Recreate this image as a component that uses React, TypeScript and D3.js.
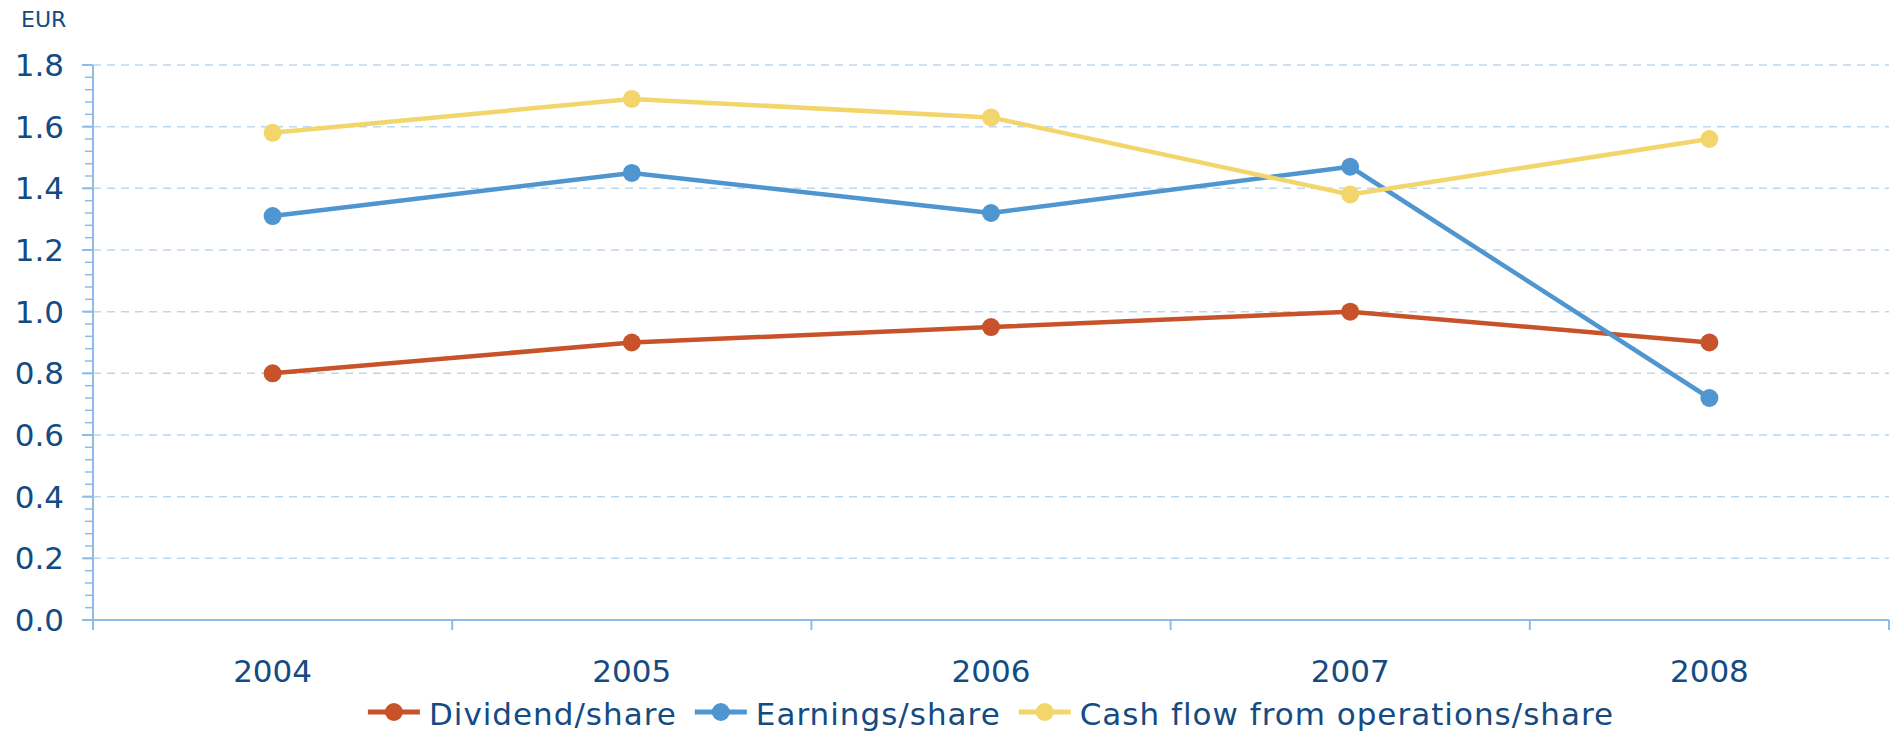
import React, { useEffect, useRef } from "react";
import * as d3 from "d3";

const years = ["2004", "2005", "2006", "2007", "2008"];
const dividend = [0.8, 0.9, 0.95, 1.0, 0.9];
const earnings = [1.31, 1.45, 1.32, 1.47, 0.72];
const cashFlow = [1.58, 1.69, 1.63, 1.38, 1.56];
const yTicks = [0, 0.2, 0.4, 0.6, 0.8, 1.0, 1.2, 1.4, 1.6, 1.8];
const seriesNames = ["Dividend/share", "Earnings/share", "Cash flow from operations/share"];
const seriesColors = ["#C8532A", "#4F95CF", "#F2D66B"];
const unitLabel = "EUR";

const W = 1896;
const H = 731;
const FONT = "'DejaVu Sans', Verdana, sans-serif";
const TEXT = "#134B82";
const AXIS = "#8DBDE6";
const GRID = "#BCD8F0";

export default function App() {
  const ref = useRef<SVGSVGElement>(null);

  useEffect(() => {
    const svg = d3.select(ref.current);
    svg.selectAll("*").remove();

    const left = 93, right = 1889, top = 65, bottom = 620;
    const x = d3.scaleBand<string>().domain(years).range([left, right]);
    const y = d3.scaleLinear().domain([0, 1.8]).range([bottom, top]);
    const cx = (yr: string) => (x(yr) as number) + x.bandwidth() / 2;

    // gridlines
    svg.append("g")
      .selectAll("line")
      .data(yTicks.filter((t) => t > 0))
      .join("line")
      .attr("x1", left)
      .attr("x2", right)
      .attr("y1", (d) => y(d))
      .attr("y2", (d) => y(d))
      .attr("stroke", GRID)
      .attr("stroke-width", 1.5)
      .attr("stroke-dasharray", "8,6");

    // minor ticks on y axis
    const minor = d3.range(0, 1.8001, 0.04);
    svg.append("g")
      .selectAll("line")
      .data(minor)
      .join("line")
      .attr("x1", left - 8)
      .attr("x2", left)
      .attr("y1", (d) => y(d))
      .attr("y2", (d) => y(d))
      .attr("stroke", AXIS)
      .attr("stroke-width", 1.5);

    // major ticks
    svg.append("g")
      .selectAll("line")
      .data(yTicks)
      .join("line")
      .attr("x1", left - 11)
      .attr("x2", left)
      .attr("y1", (d) => y(d))
      .attr("y2", (d) => y(d))
      .attr("stroke", AXIS)
      .attr("stroke-width", 2);

    // y axis line
    svg.append("line")
      .attr("x1", left).attr("x2", left)
      .attr("y1", top).attr("y2", bottom + 10)
      .attr("stroke", AXIS).attr("stroke-width", 2);

    // x axis line
    svg.append("line")
      .attr("x1", left).attr("x2", right)
      .attr("y1", bottom).attr("y2", bottom)
      .attr("stroke", AXIS).attr("stroke-width", 2);

    // x category boundary ticks
    const bounds = years.slice(1).map((yr) => x(yr) as number).concat([right]);
    svg.append("g")
      .selectAll("line")
      .data(bounds)
      .join("line")
      .attr("x1", (d) => d).attr("x2", (d) => d)
      .attr("y1", bottom).attr("y2", bottom + 10)
      .attr("stroke", AXIS).attr("stroke-width", 2);

    // y tick labels
    svg.append("g")
      .selectAll("text")
      .data(yTicks)
      .join("text")
      .attr("x", 64)
      .attr("y", (d) => y(d))
      .attr("dy", "0.36em")
      .attr("text-anchor", "end")
      .attr("font-family", FONT)
      .attr("font-size", 31)
      .attr("fill", TEXT)
      .text((d) => d.toFixed(1));

    // unit label
    svg.append("text")
      .attr("x", 21).attr("y", 27)
      .attr("font-family", FONT).attr("font-size", 22)
      .attr("fill", TEXT)
      .text(unitLabel);

    // x labels
    svg.append("g")
      .selectAll("text")
      .data(years)
      .join("text")
      .attr("x", (d) => cx(d))
      .attr("y", 682)
      .attr("text-anchor", "middle")
      .attr("font-family", FONT)
      .attr("font-size", 31)
      .attr("fill", TEXT)
      .text((d) => d);

    // series
    const allSeries = [dividend, earnings, cashFlow];
    const line = d3.line<number>()
      .x((_, i) => cx(years[i]))
      .y((d) => y(d));
    allSeries.forEach((vals, si) => {
      const g = svg.append("g");
      g.append("path")
        .attr("d", line(vals) as string)
        .attr("fill", "none")
        .attr("stroke", seriesColors[si])
        .attr("stroke-width", 4.5)
        .attr("stroke-linejoin", "round");
      g.selectAll("circle")
        .data(vals)
        .join("circle")
        .attr("cx", (_, i) => cx(years[i]))
        .attr("cy", (d) => y(d))
        .attr("r", 9)
        .attr("fill", seriesColors[si]);
    });

    // legend
    const legY = 712;
    const lineLen = 52;
    const gapText = 9;
    const gapItem = 18;
    const lg = svg.append("g");
    const items = seriesNames.map((name, i) => {
      const t = lg.append("text")
        .attr("font-family", FONT)
        .attr("font-size", 31)
        .attr("letter-spacing", "1px")
        .attr("fill", TEXT)
        .attr("y", 725)
        .text(name);
      const w = (t.node() as SVGTextElement).getComputedTextLength();
      return { t, w, i };
    });
    const total = items.reduce((s, it) => s + lineLen + gapText + it.w, 0) + gapItem * (items.length - 1);
    let pos = (left + right) / 2 - total / 2;
    items.forEach((it) => {
      const c = seriesColors[it.i];
      lg.append("line")
        .attr("x1", pos).attr("x2", pos + lineLen)
        .attr("y1", legY).attr("y2", legY)
        .attr("stroke", c).attr("stroke-width", 5);
      lg.append("circle")
        .attr("cx", pos + lineLen / 2).attr("cy", legY)
        .attr("r", 9).attr("fill", c);
      it.t.attr("x", pos + lineLen + gapText);
      pos += lineLen + gapText + it.w + gapItem;
    });
  }, []);

  return (
    <svg
      ref={ref}
      width={W}
      height={H}
      style={{ position: "absolute", left: 0, top: 0, background: "#fff" }}
    />
  );
}
